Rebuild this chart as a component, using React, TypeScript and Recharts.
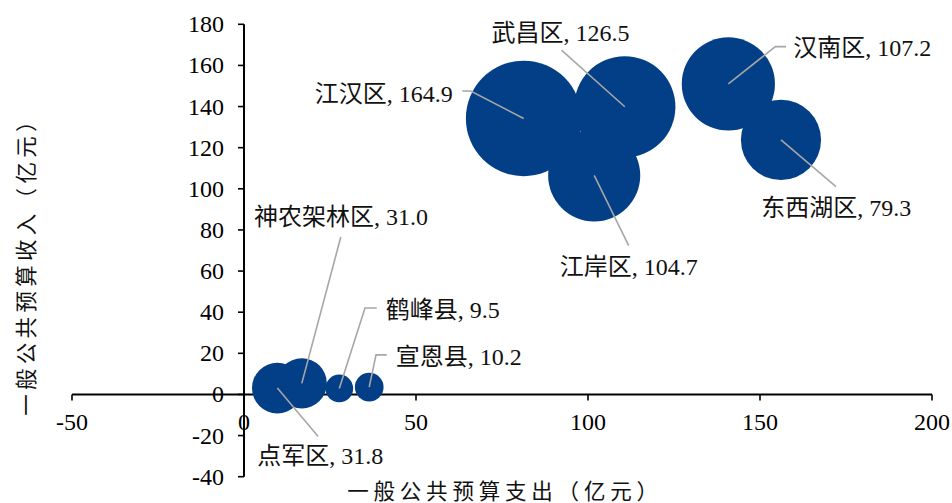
import React from 'react';
import {
  ScatterChart,
  Scatter,
  XAxis,
  YAxis,
  ZAxis,
  ReferenceLine,
  ReferenceDot,
} from 'recharts';

// ---- data ----
const districts = ['点军区', '神农架林区', '鹤峰县', '宣恩县', '江汉区', '武昌区', '江岸区', '汉南区', '东西湖区'];
const expenditure = [9.7, 16.8, 27.7, 36.4, 81.3, 110.7, 101.8, 140.8, 156.1];
const revenue = [3.1, 5.4, 2.9, 3.6, 134.2, 139.9, 106.5, 151.0, 123.8];
const bubbleValues = [31.8, 31.0, 9.5, 10.2, 164.9, 126.5, 104.7, 107.2, 79.3];

const xTicks = [-50, 0, 50, 100, 150, 200];
const yTicks = [-40, -20, 0, 20, 40, 60, 80, 100, 120, 140, 160, 180];

const xTitle = '一般公共预算支出（亿元）';
const yTitle = '一般公共预算收入（亿元）';

// ---- label layout (pixel offsets from bubble centre) ----
type LabelLayout = {
  dx: number;
  dy: number;
  anchor: 'start' | 'end';
  lx: number;
  ly: number;
  ex?: number;
  ey?: number;
};
const labelLayout: Record<string, LabelLayout> = {
  点军区: { dx: -20, dy: 68.4, anchor: 'start', lx: 40.8, ly: 48.4 },
  神农架林区: { dx: -47.7, dy: -166.3, anchor: 'start', lx: 39, ly: -146.3 },
  鹤峰县: { dx: 46.4, dy: -78.8, anchor: 'start', lx: 37.4, ly: -80.5, ex: 25.7, ey: -80.5 },
  宣恩县: { dx: 26.5, dy: -30.5, anchor: 'start', lx: 17.5, ly: -32.2, ex: 6.8, ey: -32.2 },
  江汉区: { dx: -71, dy: -24.5, anchor: 'end', lx: -61.3, ly: -27.5, ex: -53, ey: -27.5 },
  武昌区: { dx: -133.3, dy: -73.7, anchor: 'start', lx: -63.3, ly: -56.7 },
  江岸区: { dx: -34.5, dy: 91.5, anchor: 'start', lx: 34.5, ly: 70.2 },
  汉南区: { dx: 65, dy: -36, anchor: 'start', lx: 57.7, ly: -37.3, ex: 47, ey: -37.3 },
  东西湖区: { dx: -19.7, dy: 68, anchor: 'start', lx: 55, ly: 46.7 },
};

const points = districts.map((name, i) => ({
  name,
  x: expenditure[i],
  y: revenue[i],
  z: bubbleValues[i],
}));

const W = 952;
const H = 503;
const FONT = "'Liberation Serif', 'Times New Roman', 'Noto Sans CJK SC', serif";
const CJK_FONT = "'Noto Sans CJK SC', 'Liberation Serif', serif";
const BLUE = '#023F87';
const maxZ = Math.max(...bubbleValues);
const RADIUS_PER_SQRT = 4.5;
const FS = 24;

const BubbleShape = (props: any) => {
  const { cx, cy, size } = props;
  const r = Math.sqrt((size || 0) / Math.PI);
  return <circle cx={cx} cy={cy} r={r} fill={BLUE} />;
};

const LabelShape = (props: any) => {
  const { cx, cy, payload } = props;
  const L = labelLayout[payload.name];
  if (!L) return <g />;
  const pts: string[] = [`${cx + L.lx},${cy + L.ly}`];
  if (L.ex !== undefined && L.ey !== undefined) pts.push(`${cx + L.ex},${cy + L.ey}`);
  pts.push(`${cx},${cy}`);
  return (
    <g>
      <polyline points={pts.join(' ')} fill="none" stroke="#A6A6A6" strokeWidth={1.6} />
      <text
        x={cx + L.dx}
        y={cy + L.dy}
        textAnchor={L.anchor}
        dominantBaseline="central"
        fontFamily={FONT}
        fontSize={FS}
        fill="#111"
      >
        {`${payload.name}, ${payload.z.toFixed(1)}`}
      </text>
    </g>
  );
};

export default function App() {
  return (
    <div style={{ position: 'absolute', left: 0, top: 0, width: W, height: H, background: '#fff' }}>
      <ScatterChart
        width={W}
        height={H}
        margin={{ top: 24.3, right: 20, bottom: 26.3, left: 72 }}
      >
        <XAxis type="number" dataKey="x" domain={[-50, 200]} ticks={xTicks} hide />
        <YAxis type="number" dataKey="y" domain={[-40, 180]} ticks={yTicks} hide />
        <ZAxis
          type="number"
          dataKey="z"
          domain={[0, maxZ]}
          range={[0, Math.PI * RADIUS_PER_SQRT * RADIUS_PER_SQRT * maxZ]}
        />
        <Scatter data={points} shape={BubbleShape} isAnimationActive={false} />
        <ReferenceLine y={0} stroke="#000" strokeWidth={2} />
        <ReferenceLine x={0} stroke="#000" strokeWidth={2} />
        {xTicks.map((v) => (
          <ReferenceDot
            key={`xt${v}`}
            x={v}
            y={0}
            r={0}
            ifOverflow="visible"
            shape={(p: any) => (
              <g>
                <line x1={p.cx} y1={p.cy} x2={p.cx} y2={p.cy + 6} stroke="#000" strokeWidth={1.6} />
                <text
                  x={p.cx}
                  y={p.cy + 28}
                  textAnchor="middle"
                  dominantBaseline="central"
                  fontFamily={FONT}
                  fontSize={FS}
                  fill="#000"
                >
                  {v}
                </text>
              </g>
            )}
          />
        ))}
        {yTicks.map((v) => (
          <ReferenceDot
            key={`yt${v}`}
            x={0}
            y={v}
            r={0}
            ifOverflow="visible"
            shape={(p: any) => (
              <g>
                <line x1={p.cx - 6} y1={p.cy} x2={p.cx} y2={p.cy} stroke="#000" strokeWidth={1.6} />
                <text
                  x={p.cx - 20}
                  y={p.cy}
                  textAnchor="end"
                  dominantBaseline="central"
                  fontFamily={FONT}
                  fontSize={FS}
                  fill="#000"
                >
                  {v}
                </text>
              </g>
            )}
          />
        ))}
        <Scatter data={points} shape={LabelShape} isAnimationActive={false} />
      </ScatterChart>
      <svg
        width={W}
        height={H}
        style={{ position: 'absolute', left: 0, top: 0, pointerEvents: 'none' }}
      >
        <text
          x={505}
          y={489}
          textAnchor="middle"
          dominantBaseline="central"
          fontFamily={CJK_FONT}
          fontSize={21.5}
          letterSpacing={4.8}
          fill="#111"
        >
          {xTitle}
        </text>
        <text
          transform="translate(24, 261) rotate(-90)"
          x={0}
          y={0}
          textAnchor="middle"
          dominantBaseline="central"
          fontFamily={CJK_FONT}
          fontSize={21.5}
          letterSpacing={4.3}
          fill="#111"
        >
          {yTitle}
        </text>
      </svg>
    </div>
  );
}
